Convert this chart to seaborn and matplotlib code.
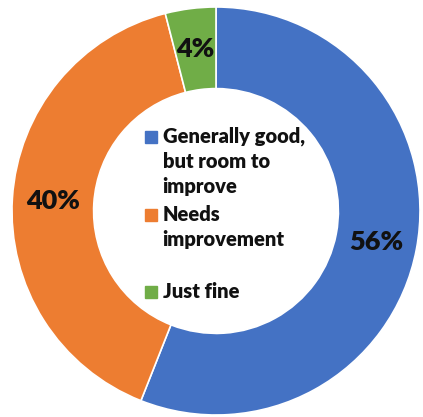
import matplotlib
matplotlib.use("Agg")
import matplotlib.pyplot as plt
import seaborn as sns

# survey answers, share in percent
categories = ["Generally good,\nbut room to\nimprove", "Needs\nimprovement", "Just fine"]
shares = [56, 40, 4]
colors = ["#4472C4", "#ED7D31", "#70AD47"]

sns.set_theme(style="white")
plt.rcParams["font.family"] = ["Lato", "DejaVu Sans"]

fig = plt.figure(figsize=(4.23, 4.17), dpi=100)
ax = fig.add_axes([0, 0, 1, 1])

wedges, texts = ax.pie(
    shares, colors=colors, startangle=90, counterclock=False,
    radius=1.0, labels=[f"{s}%" for s in shares], labeldistance=0.8,
    wedgeprops=dict(width=0.4, edgecolor="white", linewidth=1.2),
    textprops=dict(fontsize=19.5, fontweight="heavy", color="#111111"),
)
for t in texts:
    t.set_ha("center")
    t.set_va("center")

# legend in the hole, laid out like the original
legend_y = [0.365, -0.02, -0.397]
for lab, col, y in zip(categories, colors, legend_y):
    ax.plot([-0.318], [y], marker="s", markersize=8, color=col, linestyle="none")
    ax.text(-0.262, y + 0.05, lab, ha="left", va="top", fontsize=14.5,
            fontweight="heavy", color="#111111", linespacing=1.38)

ax.set_xlim(-1.0588, 1.0147)
ax.set_ylim(-1.0098, 1.0343)
ax.set_aspect("equal")
ax.axis("off")

fig.savefig("out.png", dpi=100, facecolor="white")
